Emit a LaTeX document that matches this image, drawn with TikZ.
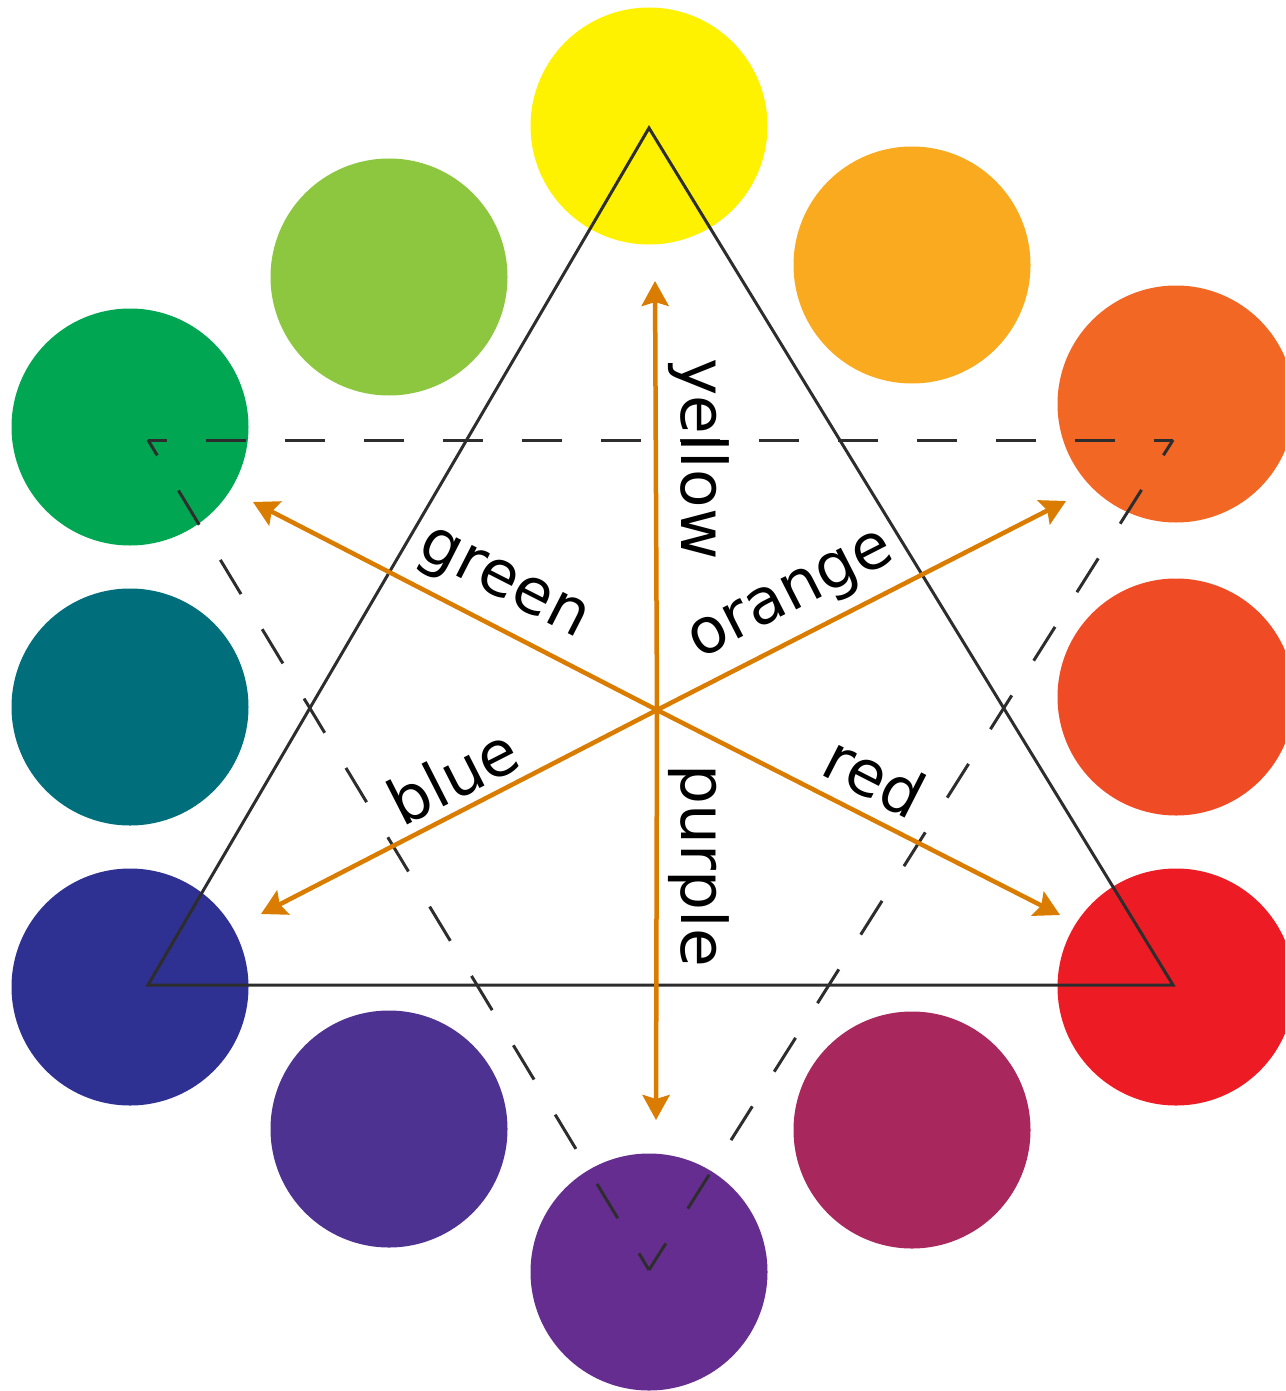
\documentclass[tikz,border=0pt]{standalone}
\usepackage{fontspec}
\setmainfont{DejaVu Sans}
\usetikzlibrary{arrows.meta}
\definecolor{cYellow}{RGB}{255,242,0}
\definecolor{cYellowOrange}{RGB}{250,170,30}
\definecolor{cOrange}{RGB}{242,103,36}
\definecolor{cRedOrange}{RGB}{239,75,36}
\definecolor{cRed}{RGB}{237,28,36}
\definecolor{cRedViolet}{RGB}{168,40,94}
\definecolor{cPurple}{RGB}{102,45,145}
\definecolor{cBlueViolet}{RGB}{78,50,145}
\definecolor{cBlue}{RGB}{46,49,146}
\definecolor{cTeal}{RGB}{0,110,123}
\definecolor{cGreen}{RGB}{0,166,81}
\definecolor{cYellowGreen}{RGB}{141,198,63}
\definecolor{triGray}{RGB}{45,45,45}
\definecolor{arrOrange}{RGB}{217,124,0}
\begin{document}
\begin{tikzpicture}[x=1pt,y=-1pt,
  disc/.style={circle,minimum size=237pt,inner sep=0pt,draw=none},
  tri/.style={draw=triGray,line width=3pt,line join=miter},
  dtritop/.style={draw=triGray,line width=3pt,dash pattern=on 40pt off 39pt,dash phase=21pt},
  dtriside/.style={draw=triGray,line width=3pt,dash pattern=on 40pt off 41pt,dash phase=22pt},
  arr/.style={draw=arrOrange,line width=4.5pt,-{Stealth[length=25pt,width=27pt,inset=4pt]}},
  lbl/.style={font=\fontsize{63}{75}\selectfont,inner sep=0pt,text=black}]
\useasboundingbox (0,0) rectangle (1285,1391);
\clip (0,0) rectangle (1285,1391);
% colour discs
\node[disc,fill=cYellow]       (cY)  at (649,126)  {};
\node[disc,fill=cYellowOrange] (cYO) at (912,265)  {};
\node[disc,fill=cOrange]       (cO)  at (1176,404) {};
\node[disc,fill=cRedOrange]    (cRO) at (1176,697) {};
\node[disc,fill=cRed]          (cR)  at (1176,987) {};
\node[disc,fill=cRedViolet]    (cRV) at (912,1130) {};
\node[disc,fill=cPurple]       (cP)  at (649,1272) {};
\node[disc,fill=cBlueViolet]   (cBV) at (389,1129) {};
\node[disc,fill=cBlue]         (cB)  at (130,987)  {};
\node[disc,fill=cTeal]         (cT)  at (130,707)  {};
\node[disc,fill=cGreen]        (cG)  at (130,427)  {};
\node[disc,fill=cYellowGreen]  (cYG) at (389,277)  {};
% solid triangle
\coordinate (tA) at (649,128);
\coordinate (tL) at (148,985);
\coordinate (tR) at (1173,985);
\draw[tri] (tA) -- (tL) -- (tR) -- cycle;
% dashed triangle
\coordinate (dL) at (148,440);
\coordinate (dR) at (1173,440);
\coordinate (dB) at (649,1270);
\draw[dtritop] (dL) -- (dR);
\draw[dtriside] (dL) -- (dB);
\draw[dtriside] (dR) -- (dB);
% arrows
\coordinate (ctr) at (657,710);
\coordinate (eUp) at (655,281);
\coordinate (eDown) at (656,1120);
\coordinate (eUL) at (253,502);
\coordinate (eUR) at (1066,501);
\coordinate (eLL) at (261,914);
\coordinate (eLR) at (1060,915);
\draw[arr] (ctr) -- (eUp);
\draw[arr] (ctr) -- (eDown);
\draw[arr] (ctr) -- (eUL);
\draw[arr] (ctr) -- (eUR);
\draw[arr] (ctr) -- (eLL);
\draw[arr] (ctr) -- (eLR);
% labels
\node[lbl,rotate=-90] (lYellow) at (699,459) {yellow};
\node[lbl,rotate=-90] (lPurple) at (699,866) {purple};
\node[lbl,rotate=-27] (lGreen)  at (502,587) {green};
\node[lbl,rotate=27]  (lOrange) at (793,599) {orange};
\node[lbl,rotate=27]  (lBlue)   at (453,776) {blue};
\node[lbl,rotate=-27] (lRed)    at (875,776) {red};
\end{tikzpicture}
\end{document}
